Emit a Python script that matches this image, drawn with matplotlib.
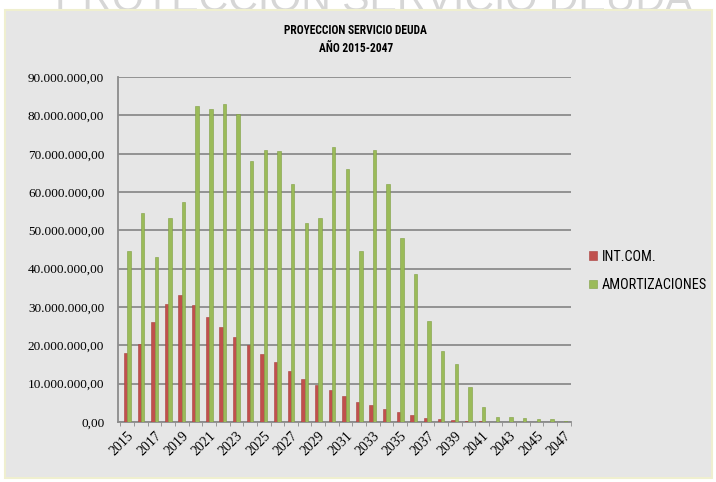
import numpy as np
import matplotlib
matplotlib.use('Agg')
from matplotlib import pyplot as plt
import matplotlib.ticker as mticker
from matplotlib.patches import Rectangle

# data (values in millions)
years = list(range(2015, 2048))
int_com = [18.1, 20.4, 26.2, 30.7, 33.2, 30.5, 27.5, 24.8, 22.2, 20.0, 17.8,
           15.6, 13.2, 11.3, 9.6, 8.3, 6.8, 5.2, 4.4, 3.3, 2.5, 1.7, 1.0, 0.8,
           0.5, 0.3, 0.15, 0.1, 0.1, 0.08, 0.06, 0.05, 0.03]
amortizaciones = [44.7, 54.6, 43.1, 53.3, 57.5, 82.4, 81.8, 82.9, 80.5, 68.1,
                  71.1, 70.8, 62.0, 52.0, 53.2, 71.7, 66.0, 44.7, 71.1, 62.2,
                  47.9, 38.6, 26.3, 18.5, 15.2, 9.1, 4.0, 1.3, 1.3, 1.0, 0.8,
                  0.8, 0.3]
series_names = ['INT.COM.', 'AMORTIZACIONES']
title = 'PROYECCION SERVICIO DEUDA\nAÑO 2015-2047'
heading = 'PROYECCION SERVICIO DEUDA'

SANS = ['Roboto Condensed', 'Liberation Sans', 'DejaVu Sans']
SERIF = ['Liberation Serif', 'DejaVu Serif']
plt.rcParams['font.family'] = SANS


def fmt_es(v, pos):
    s = f'{v:,.2f}'
    return s.replace(',', '#').replace('.', ',').replace('#', '.')


def main():
    fig = plt.figure(figsize=(7.16, 4.82), dpi=100)
    fig.patch.set_facecolor('white')

    # faded big heading above the chart, only its lower part shows
    fig.text(0.522, 0.978, heading, fontsize=29.5, color='#d6d6d6',
             ha='center', va='baseline', zorder=0,
             family=['Liberation Sans', 'DejaVu Sans'])

    # chart area
    fig.patches.append(Rectangle((0.007, 0.008), 0.988, 0.972,
                                 transform=fig.transFigure, facecolor='#e6e6e6',
                                 edgecolor='#efefcf', linewidth=1.5, zorder=1))

    ax = fig.add_axes([0.165, 0.1245, 0.632, 0.7155])
    ax.set_zorder(2)
    ax.set_facecolor('none')

    x = np.arange(len(years))
    vals_red = np.array(int_com) * 1e6
    vals_green = np.array(amortizaciones) * 1e6
    w = 0.25
    ax.bar(x - w / 2, vals_red, width=w, color='#c0504d', edgecolor='#a9403d',
           linewidth=0.4, label=series_names[0], zorder=3)
    ax.bar(x + w / 2, vals_green, width=w, color='#9bbb59', edgecolor='#7f9e43',
           linewidth=0.4, label=series_names[1], zorder=3)

    ax.set_ylim(0, 90e6)
    ax.set_xlim(-0.67, len(years) - 0.5)
    ax.yaxis.set_major_locator(mticker.MultipleLocator(10e6))
    ax.yaxis.set_major_formatter(mticker.FuncFormatter(fmt_es))
    ax.grid(axis='y', color='#8c8c8c', linewidth=1.3, zorder=1)
    ax.set_axisbelow(True)

    ax.set_xticks(x[::2])
    ax.set_xticklabels([str(y) for y in years[::2]], rotation=45, ha='right',
                       rotation_mode='anchor', fontsize=10, family=SERIF)
    ax.set_xticks(np.arange(len(years) + 1) - 0.5, minor=True)
    ax.tick_params(axis='x', which='major', length=0, pad=5)
    ax.tick_params(axis='x', which='minor', length=3, color='#8c8c8c')
    ax.tick_params(axis='y', length=0, pad=10)
    for lbl in ax.get_yticklabels():
        lbl.set_family(SERIF)
        lbl.set_fontsize(9.5)

    for side in ['top', 'right']:
        ax.spines[side].set_visible(False)
    ax.spines['left'].set_color('#8c8c8c')
    ax.spines['left'].set_linewidth(1.3)
    ax.spines['bottom'].set_color('#8c8c8c')
    ax.spines['bottom'].set_linewidth(1.3)

    fig.text(0.497, 0.919, title, ha='center', va='center', fontsize=8.3,
             fontweight='bold', linespacing=1.5, zorder=3)

    ax.legend(loc='center left', bbox_to_anchor=(1.0, 0.438), frameon=False,
              fontsize=10.3, handlelength=0.55, handleheight=0.55,
              handletextpad=0.3, labelspacing=1.0, borderaxespad=0.9)

    fig.savefig('out.png', dpi=100, facecolor=fig.get_facecolor())
    plt.close(fig)


if __name__ == '__main__':
    main()
